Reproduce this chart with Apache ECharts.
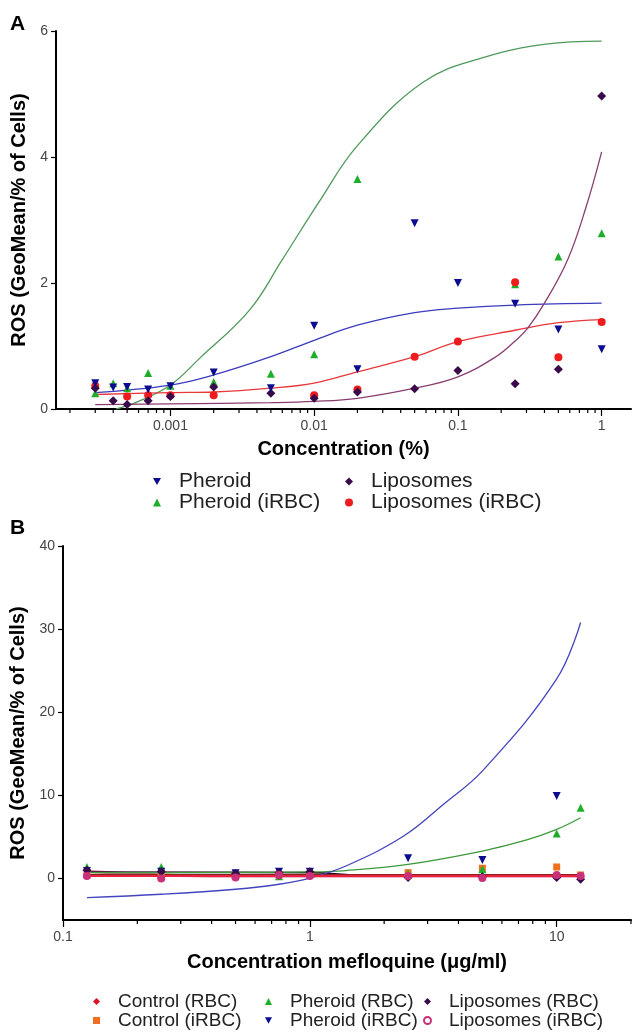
<!DOCTYPE html>
<html><head><meta charset="utf-8">
<script src="https://cdn.jsdelivr.net/npm/echarts@6/dist/echarts.min.js"></script>
<style>html,body{margin:0;padding:0;background:#fff}#c{width:633px;height:1032px}</style>
</head><body><div id="c"></div>
<script>
// ---------- Panel A data ----------
const xA = [0.0003,0.0004,0.0005,0.0007,0.001,0.002,0.005,0.01,0.02,0.05,0.1,0.25,0.5,1];
const pheroidA      = [0.41,0.34,0.35,0.31,0.36,0.58,0.33,1.32,0.63,2.95,2.0,1.67,1.26,0.95];
const pheroidIrbcA  = [0.25,0.41,0.33,0.57,0.37,0.43,0.56,0.87,3.65,null,null,1.98,2.42,2.79];
const liposomesA    = [0.33,0.13,0.07,0.13,0.2,0.35,0.25,0.17,0.27,0.32,0.61,0.40,0.63,4.97];
const liposomesIrbcA= [0.37,null,0.2,0.22,0.22,0.22,null,0.22,0.31,0.83,1.07,2.01,0.82,1.38];

const fitPheroidAx = [0.0003,0.001,0.002,0.005,0.01,0.02,0.05,0.1,0.25,1];
const fitPheroidAy = [0.26,0.38,0.54,0.83,1.09,1.33,1.53,1.6,1.65,1.68];
const fitPheroidIrbcAx = [0.00042,0.0006,0.001,0.00159,0.00355,0.006,0.0109,0.02,0.0575,0.156,0.41,1];
const fitPheroidIrbcAy = [0,0.12,0.38,0.8,1.57,2.37,3.3,4.18,5.19,5.59,5.79,5.84];
const fitLipoIrbcAx = [0.0003,0.001,0.002,0.005,0.01,0.02,0.05,0.1,0.25,0.5,1];
const fitLipoIrbcAy = [0.23,0.26,0.27,0.33,0.41,0.59,0.83,1.07,1.25,1.37,1.42];
const fitLipoAx = [0.0003,0.001,0.005,0.01,0.02,0.05,0.1,0.184,0.25,0.305,0.4,0.58,0.78,1];
const fitLipoAy = [0.07,0.08,0.1,0.12,0.17,0.33,0.51,0.83,1.08,1.28,1.68,2.37,3.21,4.08];

const minorTicksA = [0.0002,0.0003,0.0004,0.0005,0.0006,0.0007,0.0008,0.0009,
  0.002,0.003,0.004,0.005,0.006,0.007,0.008,0.009,
  0.02,0.03,0.04,0.05,0.06,0.07,0.08,0.09,
  0.2,0.3,0.4,0.5,0.6,0.7,0.8,0.9];

// ---------- Panel B data ----------
const xB = [0.125,0.25,0.5,0.75,1,2.5,5,10,12.5];
const controlRbcB     = [0.3,0.1,0.2,0.3,0.3,0.2,0.2,0.2,0.2];
const controlIrbcB    = [0.4,0.3,0.3,0.4,0.5,0.7,1.23,1.38,0.42];
const pheroidRbcB     = [1.38,1.38,0.4,0.25,0.6,0.6,1.1,5.4,8.5];
const pheroidIrbcB    = [0.9,0.8,0.63,0.8,0.8,2.43,2.23,9.93,null];
const liposomesRbcB   = [1.0,0.8,0.6,0.7,0.8,0.1,0.2,0.1,-0.1];
const liposomesIrbcB  = [0.3,0.0,0.1,0.4,0.3,0.3,0.05,0.42,0.3];

const fitPheroidIrbcBx = [0.125,0.25,0.5,0.75,1,1.4,2.4,3.47,5.06,10,12.5];
const fitPheroidIrbcBy = [-2.3,-1.9,-1.3,-0.7,0.05,1.5,5.1,8.9,13.1,24.0,30.8];
const fitPheroidRbcBx = [0.125,0.5,1,1.4,2.5,5,7.5,10,12.5];
const fitPheroidRbcBy = [0.7,0.72,0.78,0.95,1.7,3.3,4.6,5.9,7.3];
const fitControlRbcBx = [0.125,12.5];
const fitControlRbcBy = [0.3,0.3];
const fitControlIrbcBx = [0.125,12.5];
const fitControlIrbcBy = [0.42,0.42];
const fitLipoRbcBx = [0.125,1,1.6,12.5];
const fitLipoRbcBy = [0.75,0.7,0.4,0.35];
const fitLipoIrbcBx = [0.125,0.45,12.5];
const fitLipoIrbcBy = [0.85,0.3,0.3];

const minorTicksB = [0.2,0.3,0.4,0.5,0.6,0.7,0.8,0.9,2,3,4,5,6,7,8,9,20];
const yTicksB = [0,10,20,30,40];

// ---------- build ----------
const FONT = 'Liberation Sans, Arial, sans-serif';
const DOWN_TRI = 'path://M0,0L10,0L5,9Z';
function zip(xs, ys){ const out=[]; xs.forEach((x,i)=>{ if(ys[i]!=null) out.push([x,ys[i]]); }); return out; }
function scatter(name, idx, xs, ys, symbol, color, size, rotate){
  return {type:'scatter', name, xAxisIndex:idx, yAxisIndex:idx, data:zip(xs,ys), symbol, symbolSize:size,
    symbolRotate:rotate||0, itemStyle:{color, opacity:1}, z:4, clip:false};
}
function fit(name, idx, xs, ys, color, width){
  return {type:'line', name, xAxisIndex:idx, yAxisIndex:idx, data:zip(xs,ys), showSymbol:false, symbol:'none',
    smooth:0.4, lineStyle:{color, width:width||1.3}, z:3, silent:true};
}
function ticks(idx, vals, y0, len){
  return {type:'custom', xAxisIndex:idx, yAxisIndex:idx, silent:true, clip:false, z:6,
    data: vals.map(v=>[v,y0]),
    renderItem:(p,api)=>{ const c=api.coord([api.value(0), api.value(1)]);
      return {type:'line', shape:{x1:c[0],y1:c[1],x2:c[0],y2:c[1]+len}, style:{stroke:'#000', lineWidth:1.2}}; }
  };
}
const axisLine = {show:true, onZero:false, lineStyle:{color:'#000', width:2}};
const labelStyle = {color:'#444', fontSize:14, fontFamily:FONT};
const nameStyle = {color:'#000', fontSize:20, fontWeight:'bold', fontFamily:FONT};

const B_PI = 'Pheroid (iRBC)\u200b';
const B_LI = 'Liposomes (iRBC)\u200b';

function legendCol(left, top, data, fs, lh, sz){
  return {orient:'vertical', left, top, padding:0, itemGap:0, itemWidth:sz, itemHeight:sz,
    data, textStyle:{fontSize:fs, color:'#222', lineHeight:lh, fontFamily:FONT, padding:[0,0,0,13]}};
}

const option = {
  backgroundColor:'#fff',
  animation:false,
  textStyle:{fontFamily:FONT},
  title:[
    {text:'A', left:10, top:14, padding:0, textStyle:{fontSize:21, fontWeight:'bold', color:'#000', fontFamily:FONT}},
    {text:'B', left:10, top:518, padding:0, textStyle:{fontSize:21, fontWeight:'bold', color:'#000', fontFamily:FONT}}
  ],
  grid:[
    {left:56, top:31, width:575, height:378},
    {left:63, top:546, width:568, height:374}
  ],
  xAxis:[
    {type:'log', gridIndex:0, min:0.00016, max:1.6, axisLine,
     axisTick:{show:true, length:7, lineStyle:{color:'#000', width:1.2}},
     axisLabel:Object.assign({margin:10, showMinLabel:false, showMaxLabel:false}, labelStyle),
     splitLine:{show:false}, minorTick:{show:false},
     name:'Concentration (%)', nameLocation:'middle', nameGap:30, nameTextStyle:nameStyle},
    {type:'log', gridIndex:1, min:0.1, max:20, splitNumber:2, axisLine,
     axisTick:{show:true, length:7, lineStyle:{color:'#000', width:1.2}},
     axisLabel:Object.assign({margin:10, showMinLabel:true, showMaxLabel:false}, labelStyle),
     splitLine:{show:false},
     name:'Concentration mefloquine (\u03bcg/ml)', nameLocation:'middle', nameGap:32, nameTextStyle:nameStyle}
  ],
  yAxis:[
    {type:'value', gridIndex:0, min:0, max:6, interval:2, axisLine,
     axisTick:{show:true, length:5, lineStyle:{color:'#000', width:1.2}},
     axisLabel:Object.assign({margin:8}, labelStyle), splitLine:{show:false},
     name:'ROS (GeoMean/% of Cells)', nameLocation:'middle', nameGap:22, nameRotate:90, nameTextStyle:nameStyle},
    {type:'value', gridIndex:1, min:-5, max:40, axisLine,
     axisTick:{show:true, length:5, customValues:yTicksB, lineStyle:{color:'#000', width:1.2}},
     axisLabel:Object.assign({margin:8, customValues:yTicksB}, labelStyle), splitLine:{show:false},
     name:'ROS (GeoMean/% of Cells)', nameLocation:'middle', nameGap:29, nameRotate:90, nameTextStyle:nameStyle}
  ],
  legend:[
    legendCol(153, 471, [{name:'Pheroid', icon:DOWN_TRI}, 'Pheroid (iRBC)'], 21, 20, 8),
    legendCol(345, 471, ['Liposomes','Liposomes (iRBC)'], 21, 20, 8),
    legendCol(93, 992, ['Control (RBC)','Control (iRBC)'], 19, 18, 7),
    legendCol(265, 992, ['Pheroid (RBC)', {name:B_PI, icon:DOWN_TRI}], 19, 18, 7),
    legendCol(423, 992, ['Liposomes (RBC)', {name:B_LI, icon:'emptyCircle'}], 19, 18, 7)
  ],
  series:[
    // Panel A fits
    fit('fitA_pheroidIrbc', 0, fitPheroidIrbcAx, fitPheroidIrbcAy, '#4e9a5c'),
    fit('fitA_pheroid', 0, fitPheroidAx, fitPheroidAy, '#3c3cbc'),
    fit('fitA_lipoIrbc', 0, fitLipoIrbcAx, fitLipoIrbcAy, '#e8383c'),
    fit('fitA_lipo', 0, fitLipoAx, fitLipoAy, '#8a3e70'),
    // Panel A points
    scatter('Pheroid (iRBC)', 0, xA, pheroidIrbcA, 'triangle', '#1fae2a', 8),
    scatter('Liposomes (iRBC)', 0, xA, liposomesIrbcA, 'circle', '#ee1c1c', 8),
    scatter('Liposomes', 0, xA, liposomesA, 'diamond', '#3a0b4a', 9),
    scatter('Pheroid', 0, xA, pheroidA, 'triangle', '#0b0b8f', 8, 180),
    ticks(0, minorTicksA, 0, 4),
    // Panel B fits
    fit('fitB_lipoIrbc', 1, fitLipoIrbcBx, fitLipoIrbcBy, '#d8708e', 3),
    fit('fitB_lipoRbc', 1, fitLipoRbcBx, fitLipoRbcBy, '#2a0a22', 1.8),
    fit('fitB_controlIrbc', 1, fitControlIrbcBx, fitControlIrbcBy, '#6a2410', 1.8),
    fit('fitB_pheroidRbc', 1, fitPheroidRbcBx, fitPheroidRbcBy, '#3c9a3c'),
    fit('fitB_pheroidIrbc', 1, fitPheroidIrbcBx, fitPheroidIrbcBy, '#4444c0'),
    fit('fitB_controlRbc', 1, fitControlRbcBx, fitControlRbcBy, '#ec2040', 2.2),
    // Panel B points
    scatter('Control (iRBC)', 1, xB, controlIrbcB, 'rect', '#f07020', 7),
    scatter('Pheroid (RBC)', 1, xB, pheroidRbcB, 'triangle', '#1fae2a', 8),
    scatter(B_PI, 1, xB, pheroidIrbcB, 'triangle', '#0b0b8f', 8, 180),
    scatter('Control (RBC)', 1, xB, controlRbcB, 'diamond', '#e01020', 8),
    scatter('Liposomes (RBC)', 1, xB, liposomesRbcB, 'diamond', '#3a0b4a', 9),
    scatter(B_LI, 1, xB, liposomesIrbcB, 'circle', '#c8307a', 8),
    ticks(1, minorTicksB, -5, 4)
  ]
};
const chart = echarts.init(document.getElementById('c'));
chart.setOption(option);
</script>
</body></html>
